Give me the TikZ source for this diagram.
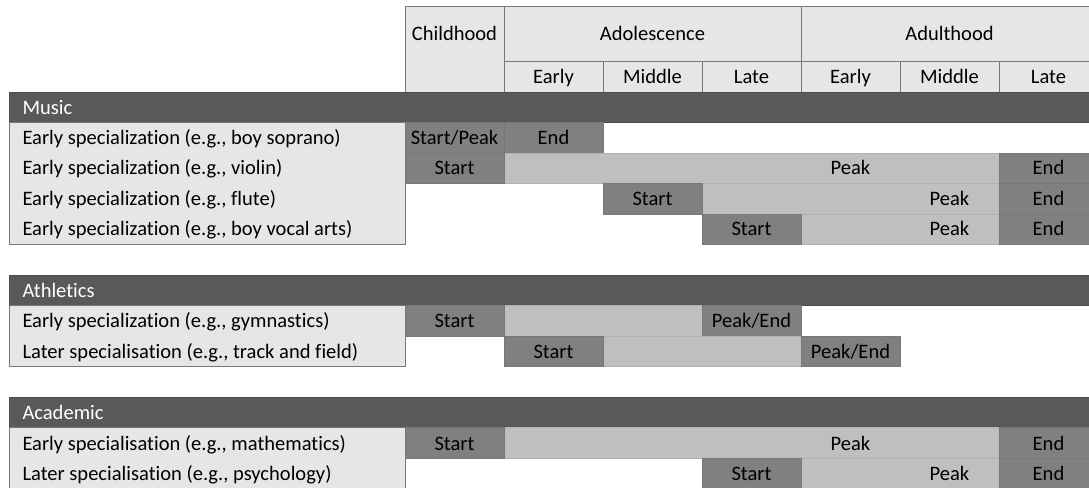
\documentclass[tikz,border=0pt]{standalone}
\usepackage{fontspec}
\setmainfont{Carlito}[Ligatures=NoCommon]

\definecolor{cellfill}{RGB}{230,230,230}
\definecolor{barfill}{RGB}{89,89,89}
\definecolor{startfill}{RGB}{128,128,128}
\definecolor{peakfill}{RGB}{191,191,191}
\definecolor{rulegray}{RGB}{120,120,120}

\tikzset{every picture/.style={line width=0.75pt},
  headcell/.style={fill=cellfill,draw=rulegray,line width=0.6pt},
  barcell/.style={fill=barfill,draw=barfill!85!black,line width=0.6pt},
  labelcell/.style={fill=cellfill,draw=rulegray,line width=0.6pt},
  startcell/.style={fill=startfill,draw=rulegray,line width=0.6pt},
  peakcell/.style={fill=peakfill,draw=peakfill!92!black,line width=0.4pt},
  celltext/.style={inner sep=0pt,text height=1.05em,text depth=0em,font=\fontsize{15.4}{18}\selectfont},
  rowtext/.style={celltext,anchor=west},
  bartext/.style={rowtext,text=white}}

\begin{document}
\begin{tikzpicture}[x=0.75pt,y=0.75pt,yscale=-1,xscale=1]
\clip (0,0) rectangle (1089,488);

% Header cells
\draw [headcell] (405,6) rectangle (504,92) ;
\draw [headcell] (504,6) rectangle (801,61) ;
\draw [headcell] (801,6) rectangle (1098,61) ;
\draw [headcell] (504,61) rectangle (603,92) ;
\draw [headcell] (603,61) rectangle (702,92) ;
\draw [headcell] (702,61) rectangle (801,92) ;
\draw [headcell] (801,61) rectangle (900,92) ;
\draw [headcell] (900,61) rectangle (999,92) ;
\draw [headcell] (999,61) rectangle (1098,92) ;
% Header text
\node [celltext] (hChild) at (454.5,34) {Childhood};
\node [celltext] (hAdol) at (652.5,34) {Adolescence};
\node [celltext] (hAdult) at (949.5,34) {Adulthood};
\node [celltext] (hAdolEarly) at (553.5,76.5) {Early};
\node [celltext] (hAdolMiddle) at (652.5,76.5) {Middle};
\node [celltext] (hAdolLate) at (751.5,76.5) {Late};
\node [celltext] (hAdultEarly) at (850.5,76.5) {Early};
\node [celltext] (hAdultMiddle) at (949.5,76.5) {Middle};
\node [celltext] (hAdultLate) at (1048.5,76.5) {Late};

% Music
\draw [barcell] (9,92) rectangle (1098,122.5) ;
\draw [labelcell] (9,122.5) rectangle (405,244.5) ;
\node [bartext] (music) at (22,107.5) {Music};
\node [rowtext] (music1) at (22,137.5) {Early specialization (e.g., boy soprano)};
\node [rowtext] (music2) at (22,168) {Early specialization (e.g., violin)};
\node [rowtext] (music3) at (22,198.5) {Early specialization (e.g., flute)};
\node [rowtext] (music4) at (22,229) {Early specialization (e.g., boy vocal arts)};
% boy soprano
\draw [startcell] (405,122.5) rectangle (504,153) ;
\draw [startcell] (504,122.5) rectangle (603,153) ;
\node [celltext] (music1start) at (454.5,137.5) {Start/Peak};
\node [celltext] (music1end) at (553.5,137.5) {End};
% violin
\draw [peakcell] (504,153) rectangle (999,183.5) ;
\draw [startcell] (405,153) rectangle (504,183.5) ;
\draw [startcell] (999,153) rectangle (1098,183.5) ;
\node [celltext] (music2start) at (454.5,168) {Start};
\node [celltext] (music2peak) at (850.5,168) {Peak};
\node [celltext] (music2end) at (1048.5,168) {End};
% flute
\draw [peakcell] (702,183.5) rectangle (999,214) ;
\draw [startcell] (603,183.5) rectangle (702,214) ;
\draw [startcell] (999,183.5) rectangle (1098,214) ;
\node [celltext] (music3start) at (652.5,198.5) {Start};
\node [celltext] (music3peak) at (949.5,198.5) {Peak};
\node [celltext] (music3end) at (1048.5,198.5) {End};
% boy vocal arts
\draw [peakcell] (801,214) rectangle (999,244.5) ;
\draw [startcell] (702,214) rectangle (801,244.5) ;
\draw [startcell] (999,214) rectangle (1098,244.5) ;
\node [celltext] (music4start) at (751.5,229) {Start};
\node [celltext] (music4peak) at (949.5,229) {Peak};
\node [celltext] (music4end) at (1048.5,229) {End};

% Athletics
\draw [barcell] (9,275) rectangle (1098,305.5) ;
\draw [labelcell] (9,305.5) rectangle (405,366.5) ;
\node [bartext] (athl) at (22,290.5) {Athletics};
\node [rowtext] (athl1) at (22,321) {Early specialization (e.g., gymnastics)};
\node [rowtext] (athl2) at (22,351.5) {Later specialisation (e.g., track and field)};
% gymnastics
\draw [peakcell] (504,305.5) rectangle (702,336) ;
\draw [startcell] (405,305.5) rectangle (504,336) ;
\draw [startcell] (702,305.5) rectangle (801,336) ;
\node [celltext] (athl1start) at (454.5,321) {Start};
\node [celltext] (athl1end) at (751.5,321) {Peak/End};
% track and field
\draw [peakcell] (603,336) rectangle (801,366.5) ;
\draw [startcell] (504,336) rectangle (603,366.5) ;
\draw [startcell] (801,336) rectangle (900,366.5) ;
\node [celltext] (athl2start) at (553.5,351.5) {Start};
\node [celltext] (athl2end) at (850.5,351.5) {Peak/End};

% Academic
\draw [barcell] (9,397) rectangle (1098,427.5) ;
\draw [labelcell] (9,427.5) rectangle (405,488.5) ;
\node [bartext] (acad) at (22,412.5) {Academic};
\node [rowtext] (acad1) at (22,443) {Early specialisation (e.g., mathematics)};
\node [rowtext] (acad2) at (22,473.5) {Later specialisation (e.g., psychology)};
% mathematics
\draw [peakcell] (504,427.5) rectangle (999,458) ;
\draw [startcell] (405,427.5) rectangle (504,458) ;
\draw [startcell] (999,427.5) rectangle (1098,458) ;
\node [celltext] (acad1start) at (454.5,443) {Start};
\node [celltext] (acad1peak) at (850.5,443) {Peak};
\node [celltext] (acad1end) at (1048.5,443) {End};
% psychology
\draw [peakcell] (801,458) rectangle (999,488.5) ;
\draw [startcell] (702,458) rectangle (801,488.5) ;
\draw [startcell] (999,458) rectangle (1098,488.5) ;
\node [celltext] (acad2start) at (751.5,473.5) {Start};
\node [celltext] (acad2peak) at (949.5,473.5) {Peak};
\node [celltext] (acad2end) at (1048.5,473.5) {End};

\end{tikzpicture}
\end{document}
